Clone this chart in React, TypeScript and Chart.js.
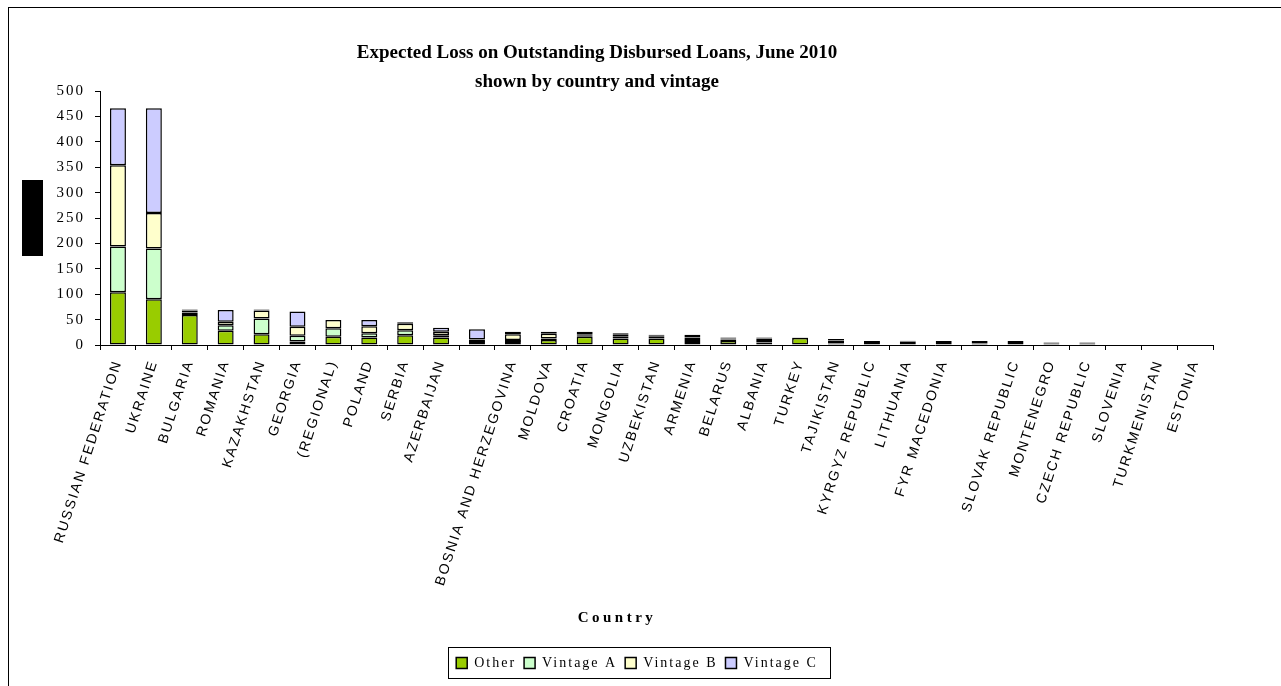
import { useEffect, useRef } from 'react';
import { Chart, registerables } from 'chart.js';

Chart.register(...registerables);

const TITLE_LINES = ['Expected Loss on Outstanding Disbursed Loans, June 2010', 'shown by country and vintage'];
const X_TITLE = 'Country';

const countries = [
  'RUSSIAN FEDERATION', 'UKRAINE', 'BULGARIA', 'ROMANIA', 'KAZAKHSTAN', 'GEORGIA', '(REGIONAL)', 'POLAND',
  'SERBIA', 'AZERBAIJAN', '', 'BOSNIA AND HERZEGOVINA', 'MOLDOVA', 'CROATIA', 'MONGOLIA', 'UZBEKISTAN',
  'ARMENIA', 'BELARUS', 'ALBANIA', 'TURKEY', 'TAJIKISTAN', 'KYRGYZ REPUBLIC', 'LITHUANIA', 'FYR MACEDONIA',
  '', 'SLOVAK REPUBLIC', 'MONTENEGRO', 'CZECH REPUBLIC', 'SLOVENIA', 'TURKMENISTAN', 'ESTONIA',
];

const other = [104, 90, 59, 28, 21, 7, 16, 15, 19, 15, 6, 6, 10, 16, 13, 13, 4, 8, 5, 14, 3, 2, 6, 2, 1, 2, 2, 2, 0, 0, 0];
const vintageA = [90, 100, 5, 11, 31, 11, 17, 8, 10, 4, 2, 4, 3, 2, 3, 3, 6, 3, 3, 0.5, 3, 2, 1, 2, 1, 2, 1, 1, 0, 0, 0];
const vintageB = [160, 70, 4, 7, 16, 18, 16, 14, 13, 7, 3, 11, 9, 2, 5, 2, 5, 2, 5, 0.5, 3, 2, 1, 2, 1, 2, 1, 1, 0, 0, 0];
const vintageC = [112, 206, 2, 23, 2, 30, 0, 12, 3, 8, 20, 5, 4, 6, 2, 2, 5, 2, 2, 0, 3, 2, 0.5, 2, 5, 2, 1, 1, 0, 0, 0];

const seriesNames = ['Other', 'Vintage A', 'Vintage B', 'Vintage C'];
const seriesColors = ['#99CC00', '#CCFFCC', '#FFFFCC', '#CCCCFF'];
const yTicks = { min: 0, max: 500, step: 50 };

const decorPlugin = {
  id: 'decor',
  beforeLayout(chart: any) {
    chart.ctx.letterSpacing = '2px';
  },
  beforeDraw(chart: any) {
    chart.ctx.letterSpacing = '2px';
  },
  afterDraw(chart: any) {
    const { ctx, chartArea, legend } = chart;
    const w = chartArea.right - chartArea.left;
    ctx.save();
    ctx.fillStyle = '#000';
    ctx.strokeStyle = '#000';
    // Title
    ctx.letterSpacing = '0px';
    ctx.font = 'bold 19px "Liberation Serif"';
    ctx.textAlign = 'center';
    ctx.textBaseline = 'middle';
    const tx = chartArea.left + w * 0.4466;
    ctx.fillText(TITLE_LINES[0], tx, chartArea.top - 38);
    ctx.fillText(TITLE_LINES[1], tx, chartArea.top - 9);
    // X axis title
    ctx.letterSpacing = '3.5px';
    ctx.font = 'bold 15px "Liberation Serif"';
    ctx.fillText(X_TITLE, chartArea.left + w * 0.4645, legend.top - 30);
    // Y axis title (rendered as a solid block in the original)
    const cy = (chartArea.top + chartArea.bottom) / 2;
    ctx.fillRect(chartArea.left - 78, cy - 38, 21, 76);
    // Legend frame
    const hb = legend.legendHitBoxes;
    if (hb && hb.length) {
      const first = hb[0];
      const last = hb[hb.length - 1];
      const l = Math.round(first.left - 8) + 0.5;
      const r = Math.round(last.left + last.width + 12) + 0.5;
      const t = Math.round(first.top - 9) + 0.5;
      ctx.lineWidth = 1;
      ctx.strokeRect(l, t, r - l, 31);
    }
    ctx.restore();
  },
};

export default function App() {
  const ref = useRef<HTMLCanvasElement>(null);
  useEffect(() => {
    const data = [other, vintageA, vintageB, vintageC];
    const chart = new Chart(ref.current as HTMLCanvasElement, {
      type: 'bar',
      data: {
        labels: countries,
        datasets: seriesNames.map((name, i) => ({
          label: name,
          data: data[i],
          backgroundColor: seriesColors[i],
          borderColor: '#000',
          borderWidth: 1.5,
          borderSkipped: false,
          barPercentage: 0.445,
          categoryPercentage: 1,
        })),
      },
      options: {
        responsive: false,
        animation: false,
        layout: { padding: { left: 0, right: 16, top: 83, bottom: 6 } },
        plugins: {
          title: { display: false },
          tooltip: { enabled: false },
          legend: {
            position: 'bottom',
            labels: {
              boxWidth: 11,
              boxHeight: 11,
              padding: 8,
              color: '#000',
              font: { family: '"Liberation Serif"', size: 14 },
            },
          },
        },
        scales: {
          x: {
            stacked: true,
            grid: { display: true, drawOnChartArea: false, drawTicks: true, tickLength: 5, color: '#000', offset: true },
            border: { display: true, color: '#000', width: 1 },
            ticks: {
              autoSkip: false,
              maxRotation: 72,
              minRotation: 72,
              padding: 8,
              color: '#000',
              font: { family: '"Liberation Sans"', size: 14 },
            },
            afterFit: (s: any) => {
              s.height = 303;
            },
          },
          y: {
            stacked: true,
            min: yTicks.min,
            max: yTicks.max,
            grid: { display: true, drawOnChartArea: false, drawTicks: true, tickLength: 5, color: '#000' },
            border: { display: true, color: '#000', width: 1 },
            ticks: {
              stepSize: yTicks.step,
              padding: 10,
              color: '#000',
              font: { family: '"Liberation Serif"', size: 15 },
            },
            afterFit: (s: any) => {
              s.width = 91;
            },
          },
          yRight: {
            type: 'linear',
            position: 'right',
            display: true,
            grid: { display: false },
            border: { display: false },
            ticks: { display: false },
            afterFit: (s: any) => {
              s.width = 52;
            },
          },
        },
      },
      plugins: [decorPlugin],
    } as any);
    return () => chart.destroy();
  }, []);

  return (
    <div
      style={{
        position: 'absolute',
        left: 8,
        top: 7,
        width: 1273,
        height: 679,
        borderTop: '1px solid #000',
        borderLeft: '1px solid #000',
        boxSizing: 'border-box',
        background: '#fff',
      }}
    >
      <canvas ref={ref} width={1272} height={678} style={{ display: 'block' }} />
    </div>
  );
}
